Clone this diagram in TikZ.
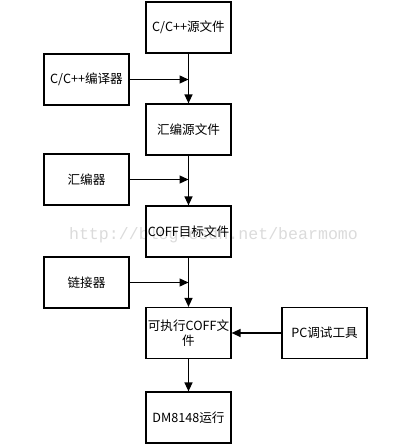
\documentclass[tikz,border=0pt]{standalone}
\usepackage{fontspec}
\setmainfont{Noto Sans CJK SC}
\newfontfamily\wmfont{Liberation Mono}
\usetikzlibrary{arrows.meta}
\begin{document}
\begin{tikzpicture}[x=1pt,y=-1pt,
  box/.style={draw,line width=1.2pt,minimum width=85pt,minimum height=51pt,inner sep=1pt,align=center,font=\fontsize{12.6}{15}\selectfont},
  arr/.style={line width=1.3pt,-{Triangle[length=9pt,width=8pt]}}]
\useasboundingbox (0,0) rectangle (408,446);
\node[font=\wmfont\fontsize{16.6}{18}\selectfont,text=black!14] (wm) at (213.5,235) {http://blog.csdn.net/bearmomo};
\node[box] (src) at (188.5,27.5) {C/C++源文件};
\node[box] (asm) at (188.5,129.5) {汇编源文件};
\node[box] (coff) at (188.5,231.5) {COFF目标文件};
\node[box] (exe) at (188.5,333) {可执行COFF文\\件};
\node[box] (run) at (188.5,417.5) {DM8148运行};
\node[box] (cc) at (86.5,79.5) {C/C++编译器};
\node[box] (as) at (86.5,179.5) {汇编器};
\node[box] (ld) at (86.5,282.5) {链接器};
\node[box] (pc) at (324.5,333) {PC调试工具};
\draw[arr] (src) -- (asm);
\draw[arr] (asm) -- (coff);
\draw[arr] (coff) -- (exe);
\draw[arr] (exe) -- (run);
\draw[arr] (cc.east) -- (cc.east -| src.south);
\draw[arr] (as.east) -- (as.east -| asm.south);
\draw[arr] (ld.east) -- (ld.east -| coff.south);
\draw[arr] (pc) -- (exe);
\end{tikzpicture}
\end{document}
